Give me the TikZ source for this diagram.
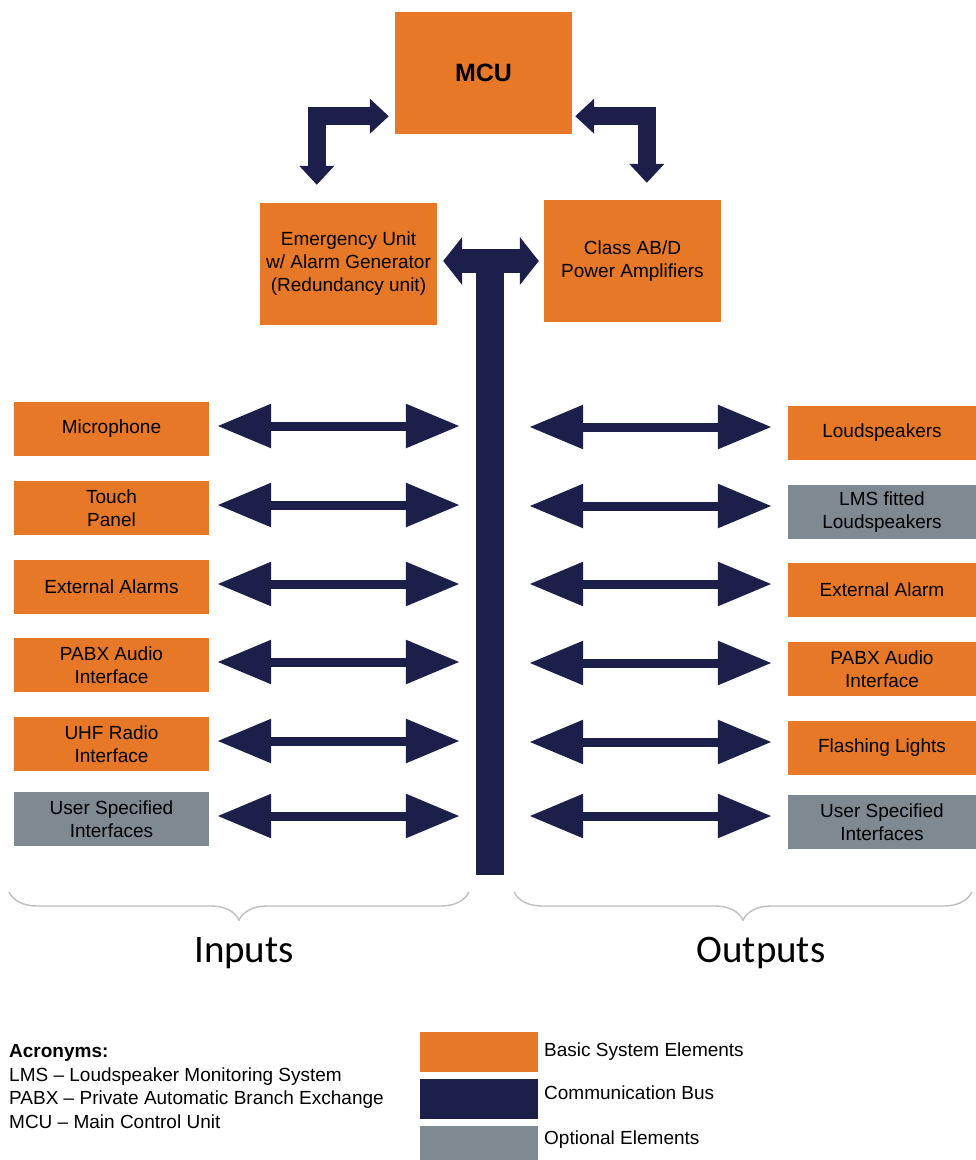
\documentclass[tikz,border=0pt]{standalone}
\usepackage{fontspec}
\setmainfont{Liberation Sans}
\newfontfamily\labelfont{Carlito}
\usetikzlibrary{arrows.meta,calc,decorations.pathreplacing}
\definecolor{basicorange}{RGB}{231,120,40}
\definecolor{busnavy}{RGB}{27,31,74}
\definecolor{optgray}{RGB}{126,137,146}
\definecolor{bracegray}{RGB}{190,190,190}
\tikzset{
  boxbase/.style={draw=none, inner sep=0pt, align=center, text=black,
    font=\fontsize{19}{23}\selectfont},
  bigbox/.style={boxbase, fill=basicorange, minimum width=177pt, minimum height=122pt},
  inbox/.style={boxbase, fill=#1, minimum width=195pt, minimum height=54pt},
  outbox/.style={boxbase, fill=#1, minimum width=188pt, minimum height=54pt},
  harrow/.style={draw=busnavy, line width=9pt,
    {Triangle[width=42pt 0 0,length=54pt 0 0]}-{Triangle[width=42pt 0 0,length=54pt 0 0]}},
  larrow/.style={draw=busnavy, line width=18pt, line join=miter,
    {Triangle[width=34pt 0 0,length=19pt 0 0]}-{Triangle[width=34pt 0 0,length=19pt 0 0]}},
  tarrow/.style={draw=busnavy, line width=24pt,
    {Triangle[width=47pt 0 0,length=19pt 0 0]}-{Triangle[width=47pt 0 0,length=19pt 0 0]}},
  bracestyle/.style={draw=bracegray, line width=1.4pt, decorate,
    decoration={brace, mirror, amplitude=28pt}},
  sidelabel/.style={font=\labelfont\fontsize{39}{44}\selectfont, inner sep=0pt, anchor=base},
  legtext/.style={font=\fontsize{19}{23}\selectfont, inner sep=0pt, anchor=base west, text=black},
  legbox/.style={draw=none, inner sep=0pt, fill=#1, minimum width=118pt, minimum height=40pt},
}
\begin{document}
\begin{tikzpicture}[x=1pt,y=-1pt]
\useasboundingbox (0,0) rectangle (976,1160);
\fill[white] (0,0) rectangle (976,1160);

% top boxes
\node[bigbox] (mcu) at (483.5,73) {\fontsize{25}{30}\selectfont\bfseries MCU};
\node[bigbox] (emerg) at (348.5,264) {Emergency Unit\\w/ Alarm Generator\\(Redundancy unit)};
\node[bigbox] (class) at (632.5,261) {Class AB/D\\Power Amplifiers};

% bus
\node[fill=busnavy, inner sep=0pt, minimum width=28pt, minimum height=620pt] (bus) at (490,565) {};
\draw[tarrow] ($(emerg.east)+(6,-3)$) -- ($(class.west)+(-5,0)$);

% L arrows
\draw[larrow] ($(emerg.north west)+(57,-18)$) |- ($(mcu.south west)+(-6,-18)$);
\draw[larrow] ($(class.north west)+(103,-17)$) |- ($(mcu.south east)+(3,-18)$);

% inputs
\node[inbox=basicorange] (mic) at (111.5,429) {Microphone};
\node[inbox=basicorange] (touch) at (111.5,508) {Touch\\Panel};
\node[inbox=basicorange] (extin) at (111.5,587) {External Alarms};
\node[inbox=basicorange] (pabxin) at (111.5,665) {PABX Audio\\Interface};
\node[inbox=basicorange] (uhf) at (111.5,744) {UHF Radio\\Interface};
\node[inbox=optgray] (userin) at (111.5,819) {User Specified\\Interfaces};

% outputs
\node[outbox=basicorange] (loud) at (882,433) {Loudspeakers};
\node[outbox=optgray] (lms) at (882,512) {LMS fitted\\Loudspeakers};
\node[outbox=basicorange] (extout) at (882,590) {External Alarm};
\node[outbox=basicorange] (pabxout) at (882,669) {PABX Audio\\Interface};
\node[outbox=basicorange] (flash) at (882,748) {Flashing Lights};
\node[outbox=optgray] (userout) at (882,822) {User Specified\\Interfaces};

% input arrows
\foreach \n in {mic,touch,extin,pabxin,uhf,userin}{
  \draw[harrow] ($(\n.east)+(8,-3)$) -- ($(bus.west |- \n.east)+(-16,-3)$);
}
% output arrows
\foreach \n in {loud,lms,extout,pabxout,flash,userout}{
  \draw[harrow] ($(bus.east |- \n.west)+(25,-6)$) -- ($(\n.west)+(-16,-6)$);
}

% braces
\coordinate (bl1) at (9,892);
\coordinate (bl2) at (469,892);
\coordinate (br1) at (514,892);
\coordinate (br2) at (972,892);
\draw[bracestyle] (bl1) -- (bl2);
\draw[bracestyle] (br1) -- (br2);
\node[sidelabel] (inputs) at (244,962) {Inputs};
\node[sidelabel] (outputs) at (761,962) {Outputs};

% acronyms
\node[legtext] (acr) at (9,1057) {\bfseries Acronyms:};
\node[legtext] (acr1) at (9,1081) {LMS – Loudspeaker Monitoring System};
\node[legtext] (acr2) at (9,1104) {PABX – Private Automatic Branch Exchange};
\node[legtext] (acr3) at (9,1128) {MCU – Main Control Unit};

% legend
\node[legbox=basicorange] (lg1) at (479,1052) {};
\node[legbox=busnavy] (lg2) at (479,1099) {};
\node[legbox=optgray] (lg3) at (479,1146) {};
\node[legtext] (lt1) at (544,1056) {Basic System Elements};
\node[legtext] (lt2) at (544,1099) {Communication Bus};
\node[legtext] (lt3) at (544,1144) {Optional Elements};
\end{tikzpicture}
\end{document}
